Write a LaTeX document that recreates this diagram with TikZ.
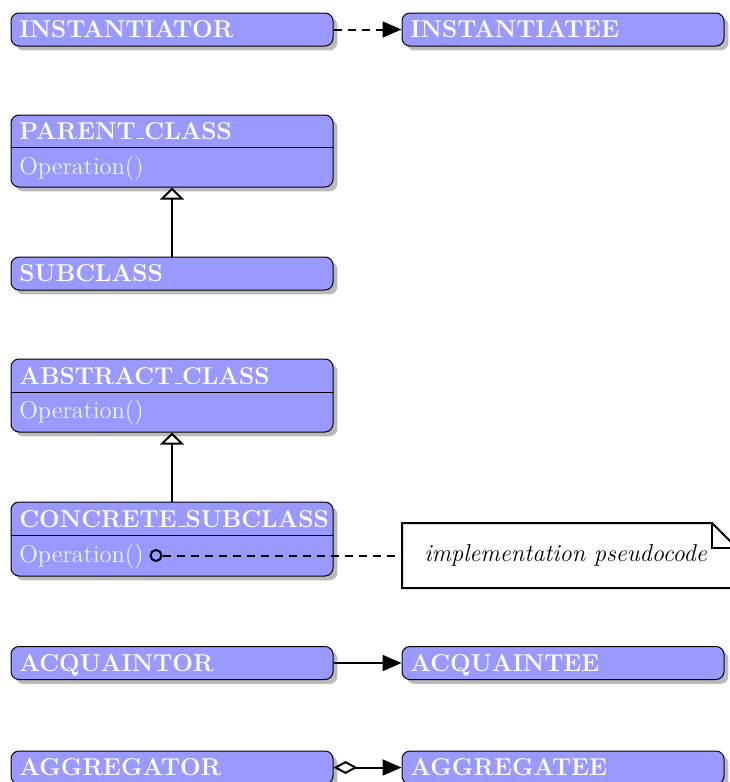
\documentclass[tikz,border=0pt]{standalone}
\usetikzlibrary{shadows,arrows.meta}
\definecolor{boxfill}{RGB}{153,153,255}
\definecolor{optextcol}{RGB}{245,245,255}
\newcommand\dfont{\fontsize{12.2}{14.6}\selectfont}
\newcommand\uscore{\leavevmode\kern.06em\vbox{\hrule width.3em height 0.5pt}}
\tikzset{
  classbox/.style={draw=black, line width=0.5pt, fill=boxfill, rounded corners=4pt,
    minimum width=161pt, inner sep=0pt,
    drop shadow={shadow xshift=2.2pt, shadow yshift=-2.2pt, fill=black!27, opacity=1}},
  single/.style={classbox, minimum height=16.5pt},
  titletext/.style={text=white, font=\dfont\bfseries, anchor=base west, inner sep=0pt},
  optext/.style={text=optextcol, font=\dfont, anchor=base west, inner sep=0pt},
  sepline/.style={line width=0.5pt},
  conn/.style={line width=1pt},
  dashline/.style={dash pattern=on 4pt off 3pt},
  filledtip/.style={-{Triangle[length=9.5pt,width=8pt]}},
  inherit/.style={-{Triangle[open,fill=white,length=6pt,width=12pt]}},
  notebox/.style={line width=1pt, fill=white},
}
\begin{document}
\begin{tikzpicture}[x=0.5pt, y=-0.5pt]
\useasboundingbox (0,0) rectangle (729,782);

% instantiation
\node[single] (instantiator) at (172,29.5) {};
\node[titletext] (instantiatorT) at (19,37.5) {INSTANTIATOR};
\node[single] (instantiatee) at (563,29.5) {};
\node[titletext] (instantiateeT) at (410,37.5) {INSTANTIATEE};
\draw[conn, dashline, filledtip] (instantiator) -- (instantiatee);

% inheritance
\node[classbox, minimum height=36pt] (parent) at (172,151) {};
\draw[sepline] (11,147) -- (333,147);
\node[titletext] (parentT) at (19,139) {PARENT\uscore CLASS};
\node[optext] (parentO) at (19,174) {Operation()};
\node[single] (subclass) at (172,273.5) {};
\node[titletext] (subclassT) at (19,281.5) {SUBCLASS};
\draw[conn, inherit] (subclass) -- (parent);

% abstract / concrete
\node[classbox, minimum height=36.5pt] (abstract) at (172,395.5) {};
\draw[sepline] (11,392) -- (333,392);
\node[titletext] (abstractT) at (19,384) {ABSTRACT\uscore CLASS};
\node[optext] (abstractO) at (19,418.5) {Operation()};
\node[classbox, minimum height=37pt] (concrete) at (172,539) {};
\draw[sepline] (11,535) -- (333,535);
\node[titletext] (concreteT) at (19,527) {CONCRETE\uscore SUBCLASS};
\node[optext] (concreteO) at (19,562) {Operation()};
\draw[conn, inherit] (concrete) -- (abstract);

% note
\draw[notebox] (402,523) -- (712,523) -- (737,548) -- (737,588) -- (402,588) -- cycle;
\draw[notebox, fill=none] (712,523) -- (712,548) -- (737,548);
\node[font=\dfont\itshape, inner sep=0pt] (note) at (565.5,555.5) {implementation pseudocode};
\coordinate (noteleft) at (402,555.5);
\node[circle, draw, line width=1pt, inner sep=0pt, minimum size=5.5pt] (opc) at (156,555.5) {};
\draw[conn, dashline] (opc) -- (noteleft);

% acquaintance
\node[single] (acquaintor) at (172,663) {};
\node[titletext] (acquaintorT) at (19,671) {ACQUAINTOR};
\node[single] (acquaintee) at (563,663) {};
\node[titletext] (acquainteeT) at (410,671) {ACQUAINTEE};
\draw[conn, filledtip] (acquaintor) -- (acquaintee);

% aggregation
\node[single] (aggregator) at (172,767.5) {};
\node[titletext] (aggregatorT) at (19,775.5) {AGGREGATOR};
\node[single] (aggregatee) at (563,767.5) {};
\node[titletext] (aggregateeT) at (410,775.5) {AGGREGATEE};
\draw[conn, {Diamond[open,fill=white,length=12pt,width=6.5pt]}-{Triangle[length=9.5pt,width=8pt]}] (aggregator) -- (aggregatee);
\end{tikzpicture}
\end{document}
